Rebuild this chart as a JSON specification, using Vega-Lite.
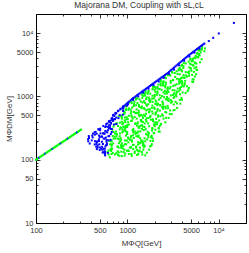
{
"$schema": "https://vega.github.io/schema/vega-lite/v6.json",
"width": 210, "height": 209,
"autosize": "none",
"padding": {"left": 36, "top": 14, "right": 3, "bottom": 30},
"title": {"text": "Majorana DM, Coupling with sL,cL", "fontSize": 8.5, "font": "Liberation Sans", "fontWeight": "normal", "color": "#333", "offset": 1, "dx": -2},
"config": {
  "view": {"stroke": "#000", "strokeWidth": 1},
  "axis": {"domain": false, "grid": false, "tickColor": "#000", "tickWidth": 0.8, "labelFont": "Liberation Sans", "labelFontSize": 7.5, "labelColor": "#333", "titleFont": "Liberation Sans", "titleFontSize": 8, "titleFontWeight": "normal", "titleColor": "#333", "labelOverlap": false, "labelFlush": false}
},
"data": {"values": [
{"mq":644,"mdm":109,"s":"g"},{"mq":672,"mdm":123,"s":"g"},{"mq":819,"mdm":115,"s":"g"},{"mq":871,"mdm":114,"s":"g"},{"mq":936,"mdm":116,"s":"g"},{"mq":1122,"mdm":115,"s":"g"},{"mq":1314,"mdm":121,"s":"g"},{"mq":1463,"mdm":121,"s":"g"},
{"mq":624,"mdm":121,"s":"g"},{"mq":761,"mdm":127,"s":"g"},{"mq":807,"mdm":130,"s":"g"},{"mq":860,"mdm":134,"s":"g"},{"mq":1040,"mdm":123,"s":"g"},{"mq":1208,"mdm":134,"s":"g"},{"mq":1318,"mdm":123,"s":"g"},{"mq":1373,"mdm":139,"s":"g"},{"mq":1638,"mdm":129,"s":"g"},
{"mq":624,"mdm":140,"s":"g"},{"mq":665,"mdm":137,"s":"g"},{"mq":806,"mdm":155,"s":"g"},{"mq":933,"mdm":144,"s":"g"},{"mq":1020,"mdm":140,"s":"g"},{"mq":1066,"mdm":155,"s":"g"},{"mq":1302,"mdm":139,"s":"g"},{"mq":1376,"mdm":155,"s":"g"},{"mq":1501,"mdm":144,"s":"g"},
{"mq":673,"mdm":152,"s":"g"},{"mq":779,"mdm":160,"s":"g"},{"mq":855,"mdm":164,"s":"g"},{"mq":888,"mdm":166,"s":"g"},{"mq":1092,"mdm":155,"s":"g"},{"mq":1158,"mdm":171,"s":"g"},{"mq":1245,"mdm":156,"s":"g"},{"mq":1510,"mdm":171,"s":"g"},{"mq":1781,"mdm":162,"s":"g"},
{"mq":649,"mdm":175,"s":"g"},{"mq":677,"mdm":174,"s":"g"},{"mq":830,"mdm":193,"s":"g"},{"mq":871,"mdm":182,"s":"g"},{"mq":941,"mdm":176,"s":"g"},{"mq":1127,"mdm":193,"s":"g"},{"mq":1314,"mdm":174,"s":"g"},{"mq":1432,"mdm":194,"s":"g"},{"mq":1498,"mdm":181,"s":"g"},{"mq":1859,"mdm":175,"s":"g"},
{"mq":663,"mdm":194,"s":"g"},{"mq":708,"mdm":215,"s":"g"},{"mq":857,"mdm":204,"s":"g"},{"mq":991,"mdm":201,"s":"g"},{"mq":1082,"mdm":207,"s":"g"},{"mq":1128,"mdm":201,"s":"g"},{"mq":1386,"mdm":218,"s":"g"},{"mq":1465,"mdm":199,"s":"g"},{"mq":1577,"mdm":196,"s":"g"},{"mq":1918,"mdm":197,"s":"g"},
{"mq":694,"mdm":236,"s":"g"},{"mq":757,"mdm":234,"s":"g"},{"mq":787,"mdm":216,"s":"g"},{"mq":966,"mdm":240,"s":"g"},{"mq":1020,"mdm":224,"s":"g"},{"mq":1102,"mdm":237,"s":"g"},{"mq":1326,"mdm":231,"s":"g"},{"mq":1548,"mdm":217,"s":"g"},{"mq":1700,"mdm":227,"s":"g"},{"mq":1843,"mdm":239,"s":"g"},
{"mq":735,"mdm":258,"s":"g"},{"mq":772,"mdm":250,"s":"g"},{"mq":831,"mdm":260,"s":"g"},{"mq":1000,"mdm":254,"s":"g"},{"mq":1166,"mdm":269,"s":"g"},{"mq":1272,"mdm":261,"s":"g"},{"mq":1330,"mdm":240,"s":"g"},{"mq":1633,"mdm":250,"s":"g"},{"mq":1728,"mdm":264,"s":"g"},{"mq":1948,"mdm":265,"s":"g"},
{"mq":709,"mdm":274,"s":"g"},{"mq":827,"mdm":301,"s":"g"},{"mq":901,"mdm":281,"s":"g"},{"mq":941,"mdm":305,"s":"g"},{"mq":1155,"mdm":284,"s":"g"},{"mq":1223,"mdm":278,"s":"g"},{"mq":1321,"mdm":279,"s":"g"},{"mq":1591,"mdm":303,"s":"g"},{"mq":1866,"mdm":289,"s":"g"},{"mq":2215,"mdm":277,"s":"g"},
{"mq":706,"mdm":332,"s":"g"},{"mq":861,"mdm":320,"s":"g"},{"mq":906,"mdm":335,"s":"g"},{"mq":969,"mdm":326,"s":"g"},{"mq":1168,"mdm":305,"s":"g"},{"mq":1357,"mdm":318,"s":"g"},{"mq":1478,"mdm":333,"s":"g"},{"mq":1546,"mdm":328,"s":"g"},{"mq":1890,"mdm":310,"s":"g"},{"mq":2000,"mdm":339,"s":"g"},{"mq":2214,"mdm":312,"s":"g"},
{"mq":765,"mdm":378,"s":"g"},{"mq":885,"mdm":366,"s":"g"},{"mq":963,"mdm":340,"s":"g"},{"mq":1003,"mdm":354,"s":"g"},{"mq":1229,"mdm":375,"s":"g"},{"mq":1297,"mdm":371,"s":"g"},{"mq":1397,"mdm":345,"s":"g"},{"mq":1683,"mdm":375,"s":"g"},{"mq":1961,"mdm":355,"s":"g"},{"mq":2142,"mdm":386,"s":"g"},{"mq":2323,"mdm":357,"s":"g"},
{"mq":830,"mdm":384,"s":"g"},{"mq":871,"mdm":398,"s":"g"},{"mq":936,"mdm":417,"s":"g"},{"mq":1122,"mdm":413,"s":"g"},{"mq":1304,"mdm":389,"s":"g"},{"mq":1421,"mdm":424,"s":"g"},{"mq":1483,"mdm":395,"s":"g"},{"mq":1817,"mdm":428,"s":"g"},{"mq":1921,"mdm":406,"s":"g"},{"mq":2071,"mdm":390,"s":"g"},{"mq":2611,"mdm":390,"s":"g"},
{"mq":869,"mdm":473,"s":"g"},{"mq":942,"mdm":465,"s":"g"},{"mq":979,"mdm":433,"s":"g"},{"mq":1202,"mdm":473,"s":"g"},{"mq":1267,"mdm":445,"s":"g"},{"mq":1363,"mdm":485,"s":"g"},{"mq":1637,"mdm":452,"s":"g"},{"mq":1908,"mdm":435,"s":"g"},{"mq":2075,"mdm":442,"s":"g"},{"mq":2170,"mdm":479,"s":"g"},{"mq":2835,"mdm":458,"s":"g"},
{"mq":861,"mdm":490,"s":"g"},{"mq":926,"mdm":531,"s":"g"},{"mq":1112,"mdm":497,"s":"g"},{"mq":1293,"mdm":541,"s":"g"},{"mq":1406,"mdm":511,"s":"g"},{"mq":1469,"mdm":492,"s":"g"},{"mq":1796,"mdm":493,"s":"g"},{"mq":1896,"mdm":535,"s":"g"},{"mq":2038,"mdm":517,"s":"g"},{"mq":2458,"mdm":496,"s":"g"},{"mq":3074,"mdm":524,"s":"g"},
{"mq":927,"mdm":561,"s":"g"},{"mq":965,"mdm":608,"s":"g"},{"mq":1181,"mdm":569,"s":"g"},{"mq":1247,"mdm":548,"s":"g"},{"mq":1340,"mdm":556,"s":"g"},{"mq":1612,"mdm":603,"s":"g"},{"mq":1876,"mdm":576,"s":"g"},{"mq":2045,"mdm":553,"s":"g"},{"mq":2136,"mdm":591,"s":"g"},{"mq":2615,"mdm":566,"s":"g"},{"mq":2950,"mdm":600,"s":"g"},
{"mq":907,"mdm":643,"s":"g"},{"mq":1091,"mdm":618,"s":"g"},{"mq":1267,"mdm":621,"s":"g"},{"mq":1380,"mdm":674,"s":"g"},{"mq":1440,"mdm":650,"s":"g"},{"mq":1764,"mdm":626,"s":"g"},{"mq":1861,"mdm":660,"s":"g"},{"mq":2000,"mdm":634,"s":"g"},{"mq":2407,"mdm":677,"s":"g"},{"mq":2798,"mdm":651,"s":"g"},{"mq":3296,"mdm":610,"s":"g"},
{"mq":970,"mdm":698,"s":"g"},{"mq":1187,"mdm":757,"s":"g"},{"mq":1252,"mdm":724,"s":"g"},{"mq":1344,"mdm":697,"s":"g"},{"mq":1617,"mdm":744,"s":"g"},{"mq":1882,"mdm":715,"s":"g"},{"mq":2050,"mdm":755,"s":"g"},{"mq":2136,"mdm":725,"s":"g"},{"mq":2620,"mdm":687,"s":"g"},{"mq":2772,"mdm":707,"s":"g"},{"mq":3230,"mdm":745,"s":"g"},
{"mq":1112,"mdm":818,"s":"g"},{"mq":1293,"mdm":785,"s":"g"},{"mq":1406,"mdm":830,"s":"g"},{"mq":1469,"mdm":800,"s":"g"},{"mq":1796,"mdm":853,"s":"g"},{"mq":1896,"mdm":820,"s":"g"},{"mq":2038,"mdm":768,"s":"g"},{"mq":2453,"mdm":791,"s":"g"},{"mq":2851,"mdm":843,"s":"g"},{"mq":3100,"mdm":827,"s":"g"},{"mq":3504,"mdm":773,"s":"g"},
{"mq":1292,"mdm":935,"s":"g"},{"mq":1361,"mdm":898,"s":"g"},{"mq":1463,"mdm":950,"s":"g"},{"mq":1754,"mdm":914,"s":"g"},{"mq":2041,"mdm":865,"s":"g"},{"mq":2225,"mdm":890,"s":"g"},{"mq":2318,"mdm":942,"s":"g"},{"mq":2840,"mdm":922,"s":"g"},{"mq":3000,"mdm":873,"s":"g"},{"mq":3230,"mdm":945,"s":"g"},{"mq":3978,"mdm":886,"s":"g"},
{"mq":1442,"mdm":1069,"s":"g"},{"mq":1566,"mdm":1028,"s":"g"},{"mq":1632,"mdm":964,"s":"g"},{"mq":1995,"mdm":995,"s":"g"},{"mq":2109,"mdm":1061,"s":"g"},{"mq":2266,"mdm":1040,"s":"g"},{"mq":2723,"mdm":976,"s":"g"},{"mq":3169,"mdm":1056,"s":"g"},{"mq":3451,"mdm":1001,"s":"g"},{"mq":3792,"mdm":1080,"s":"g"},
{"mq":1586,"mdm":1143,"s":"g"},{"mq":1673,"mdm":1095,"s":"g"},{"mq":1786,"mdm":1106,"s":"g"},{"mq":2152,"mdm":1197,"s":"g"},{"mq":2496,"mdm":1157,"s":"g"},{"mq":2714,"mdm":1110,"s":"g"},{"mq":2832,"mdm":1176,"s":"g"},{"mq":3465,"mdm":1127,"s":"g"},{"mq":3663,"mdm":1202,"s":"g"},{"mq":4038,"mdm":1154,"s":"g"},
{"mq":1714,"mdm":1218,"s":"g"},{"mq":1993,"mdm":1255,"s":"g"},{"mq":2168,"mdm":1330,"s":"g"},{"mq":2261,"mdm":1305,"s":"g"},{"mq":2772,"mdm":1235,"s":"g"},{"mq":2925,"mdm":1336,"s":"g"},{"mq":3145,"mdm":1255,"s":"g"},{"mq":3784,"mdm":1355,"s":"g"},{"mq":4664,"mdm":1285,"s":"g"},
{"mq":1926,"mdm":1366,"s":"g"},{"mq":2006,"mdm":1408,"s":"g"},{"mq":2457,"mdm":1491,"s":"g"},{"mq":2594,"mdm":1463,"s":"g"},{"mq":2784,"mdm":1384,"s":"g"},{"mq":3346,"mdm":1499,"s":"g"},{"mq":3901,"mdm":1408,"s":"g"},{"mq":4244,"mdm":1519,"s":"g"},{"mq":4512,"mdm":1440,"s":"g"},
{"mq":2195,"mdm":1534,"s":"g"},{"mq":2317,"mdm":1581,"s":"g"},{"mq":2489,"mdm":1674,"s":"g"},{"mq":2989,"mdm":1643,"s":"g"},{"mq":3477,"mdm":1555,"s":"g"},{"mq":3790,"mdm":1682,"s":"g"},{"mq":3955,"mdm":1580,"s":"g"},{"mq":5145,"mdm":1706,"s":"g"},
{"mq":2327,"mdm":1812,"s":"g"},{"mq":2499,"mdm":1737,"s":"g"},{"mq":2999,"mdm":1754,"s":"g"},{"mq":3498,"mdm":1898,"s":"g"},{"mq":3801,"mdm":1835,"s":"g"},{"mq":3965,"mdm":1757,"s":"g"},{"mq":5198,"mdm":1864,"s":"g"},
{"mq":2594,"mdm":1994,"s":"g"},{"mq":2784,"mdm":2155,"s":"g"},{"mq":3346,"mdm":2030,"s":"g"},{"mq":3901,"mdm":1946,"s":"g"},{"mq":4244,"mdm":1979,"s":"g"},{"mq":4416,"mdm":2137,"s":"g"},{"mq":5513,"mdm":2053,"s":"g"},
{"mq":2911,"mdm":2191,"s":"g"},{"mq":3126,"mdm":2369,"s":"g"},{"mq":3764,"mdm":2232,"s":"g"},{"mq":4378,"mdm":2411,"s":"g"},{"mq":4759,"mdm":2288,"s":"g"},{"mq":5136,"mdm":2187,"s":"g"},
{"mq":3465,"mdm":2483,"s":"g"},{"mq":3663,"mdm":2683,"s":"g"},{"mq":3943,"mdm":2581,"s":"g"},{"mq":4743,"mdm":2474,"s":"g"},{"mq":5724,"mdm":2643,"s":"g"},
{"mq":3760,"mdm":2815,"s":"g"},{"mq":3917,"mdm":3040,"s":"g"},{"mq":4778,"mdm":2868,"s":"g"},{"mq":5000,"mdm":2746,"s":"g"},{"mq":5463,"mdm":2794,"s":"g"},
{"mq":4162,"mdm":3354,"s":"g"},{"mq":4844,"mdm":3283,"s":"g"},{"mq":5253,"mdm":3091,"s":"g"},{"mq":5568,"mdm":3342,"s":"g"},
{"mq":4704,"mdm":3548,"s":"g"},{"mq":4901,"mdm":3827,"s":"g"},{"mq":5225,"mdm":3615,"s":"g"},{"mq":6273,"mdm":3458,"s":"g"},
{"mq":5247,"mdm":3938,"s":"g"},{"mq":5717,"mdm":4254,"s":"g"},{"mq":6000,"mdm":4096,"s":"g"},
{"mq":5618,"mdm":4378,"s":"g"},{"mq":5841,"mdm":4728,"s":"g"},{"mq":6175,"mdm":4459,"s":"g"},
{"mq":6018,"mdm":5366,"s":"g"},{"mq":6996,"mdm":5150,"s":"g"},
{"mq":6541,"mdm":5453,"s":"g"},{"mq":6576,"mdm":5597,"s":"g"},
{"mq":693,"mdm":128,"s":"g"},{"mq":733,"mdm":121,"s":"g"},{"mq":789,"mdm":119,"s":"g"},{"mq":949,"mdm":125,"s":"g"},{"mq":1108,"mdm":123,"s":"g"},{"mq":1205,"mdm":128,"s":"g"},{"mq":1277,"mdm":119,"s":"g"},{"mq":1575,"mdm":117,"s":"g"},
{"mq":609,"mdm":132,"s":"g"},{"mq":656,"mdm":145,"s":"g"},{"mq":785,"mdm":136,"s":"g"},{"mq":912,"mdm":132,"s":"g"},{"mq":994,"mdm":138,"s":"g"},{"mq":1037,"mdm":137,"s":"g"},{"mq":1271,"mdm":144,"s":"g"},{"mq":1346,"mdm":135,"s":"g"},{"mq":1444,"mdm":132,"s":"g"},
{"mq":678,"mdm":147,"s":"g"},{"mq":790,"mdm":161,"s":"g"},{"mq":860,"mdm":153,"s":"g"},{"mq":898,"mdm":150,"s":"g"},{"mq":1103,"mdm":158,"s":"g"},{"mq":1163,"mdm":147,"s":"g"},{"mq":1254,"mdm":162,"s":"g"},{"mq":1520,"mdm":157,"s":"g"},{"mq":1740,"mdm":144,"s":"g"},
{"mq":675,"mdm":166,"s":"g"},{"mq":701,"mdm":181,"s":"g"},{"mq":861,"mdm":171,"s":"g"},{"mq":906,"mdm":166,"s":"g"},{"mq":974,"mdm":175,"s":"g"},{"mq":1173,"mdm":172,"s":"g"},{"mq":1367,"mdm":181,"s":"g"},{"mq":1483,"mdm":168,"s":"g"},{"mq":1555,"mdm":165,"s":"g"},{"mq":1830,"mdm":166,"s":"g"},
{"mq":634,"mdm":199,"s":"g"},{"mq":675,"mdm":198,"s":"g"},{"mq":811,"mdm":182,"s":"g"},{"mq":943,"mdm":201,"s":"g"},{"mq":1030,"mdm":188,"s":"g"},{"mq":1075,"mdm":207,"s":"g"},{"mq":1318,"mdm":189,"s":"g"},{"mq":1391,"mdm":184,"s":"g"},{"mq":1492,"mdm":187,"s":"g"},{"mq":1795,"mdm":198,"s":"g"},
{"mq":742,"mdm":216,"s":"g"},{"mq":809,"mdm":210,"s":"g"},{"mq":845,"mdm":219,"s":"g"},{"mq":1034,"mdm":214,"s":"g"},{"mq":1094,"mdm":226,"s":"g"},{"mq":1178,"mdm":220,"s":"g"},{"mq":1418,"mdm":201,"s":"g"},{"mq":1654,"mdm":210,"s":"g"},{"mq":1813,"mdm":225,"s":"g"},{"mq":1901,"mdm":216,"s":"g"},
{"mq":725,"mdm":231,"s":"g"},{"mq":767,"mdm":253,"s":"g"},{"mq":827,"mdm":235,"s":"g"},{"mq":995,"mdm":257,"s":"g"},{"mq":1155,"mdm":242,"s":"g"},{"mq":1257,"mdm":235,"s":"g"},{"mq":1315,"mdm":232,"s":"g"},{"mq":1607,"mdm":254,"s":"g"},{"mq":1703,"mdm":245,"s":"g"},{"mq":1853,"mdm":231,"s":"g"},
{"mq":755,"mdm":278,"s":"g"},{"mq":880,"mdm":270,"s":"g"},{"mq":958,"mdm":281,"s":"g"},{"mq":998,"mdm":274,"s":"g"},{"mq":1223,"mdm":257,"s":"g"},{"mq":1292,"mdm":268,"s":"g"},{"mq":1392,"mdm":280,"s":"g"},{"mq":1673,"mdm":276,"s":"g"},{"mq":1972,"mdm":261,"s":"g"},{"mq":2266,"mdm":278,"s":"g"},
{"mq":686,"mdm":297,"s":"g"},{"mq":840,"mdm":323,"s":"g"},{"mq":886,"mdm":301,"s":"g"},{"mq":950,"mdm":292,"s":"g"},{"mq":1142,"mdm":295,"s":"g"},{"mq":1330,"mdm":321,"s":"g"},{"mq":1452,"mdm":305,"s":"g"},{"mq":1517,"mdm":294,"s":"g"},{"mq":1880,"mdm":314,"s":"g"},{"mq":2030,"mdm":297,"s":"g"},{"mq":2204,"mdm":315,"s":"g"},
{"mq":791,"mdm":341,"s":"g"},{"mq":917,"mdm":329,"s":"g"},{"mq":999,"mdm":329,"s":"g"},{"mq":1042,"mdm":359,"s":"g"},{"mq":1276,"mdm":345,"s":"g"},{"mq":1346,"mdm":333,"s":"g"},{"mq":1449,"mdm":350,"s":"g"},{"mq":1739,"mdm":337,"s":"g"},{"mq":2025,"mdm":360,"s":"g"},{"mq":2266,"mdm":341,"s":"g"},
{"mq":739,"mdm":363,"s":"g"},{"mq":903,"mdm":376,"s":"g"},{"mq":950,"mdm":395,"s":"g"},{"mq":1021,"mdm":391,"s":"g"},{"mq":1224,"mdm":368,"s":"g"},{"mq":1426,"mdm":401,"s":"g"},{"mq":1550,"mdm":373,"s":"g"},{"mq":1622,"mdm":405,"s":"g"},{"mq":1990,"mdm":384,"s":"g"},{"mq":2119,"mdm":363,"s":"g"},{"mq":2347,"mdm":368,"s":"g"},
{"mq":872,"mdm":445,"s":"g"},{"mq":1012,"mdm":438,"s":"g"},{"mq":1102,"mdm":409,"s":"g"},{"mq":1147,"mdm":446,"s":"g"},{"mq":1407,"mdm":420,"s":"g"},{"mq":1485,"mdm":457,"s":"g"},{"mq":1596,"mdm":427,"s":"g"},{"mq":1918,"mdm":410,"s":"g"},{"mq":2237,"mdm":417,"s":"g"},{"mq":2493,"mdm":445,"s":"g"},
{"mq":806,"mdm":486,"s":"g"},{"mq":987,"mdm":468,"s":"g"},{"mq":1040,"mdm":493,"s":"g"},{"mq":1121,"mdm":476,"s":"g"},{"mq":1346,"mdm":506,"s":"g"},{"mq":1569,"mdm":489,"s":"g"},{"mq":1705,"mdm":456,"s":"g"},{"mq":1781,"mdm":470,"s":"g"},{"mq":2184,"mdm":502,"s":"g"},{"mq":2307,"mdm":486,"s":"g"},{"mq":2660,"mdm":459,"s":"g"},
{"mq":938,"mdm":556,"s":"g"},{"mq":1092,"mdm":536,"s":"g"},{"mq":1190,"mdm":565,"s":"g"},{"mq":1238,"mdm":545,"s":"g"},{"mq":1517,"mdm":514,"s":"g"},{"mq":1604,"mdm":532,"s":"g"},{"mq":1724,"mdm":561,"s":"g"},{"mq":2071,"mdm":549,"s":"g"},{"mq":2412,"mdm":520,"s":"g"},{"mq":2678,"mdm":556,"s":"g"},{"mq":2928,"mdm":526,"s":"g"},
{"mq":977,"mdm":636,"s":"g"},{"mq":1030,"mdm":614,"s":"g"},{"mq":1107,"mdm":574,"s":"g"},{"mq":1331,"mdm":594,"s":"g"},{"mq":1548,"mdm":631,"s":"g"},{"mq":1684,"mdm":621,"s":"g"},{"mq":1757,"mdm":581,"s":"g"},{"mq":2153,"mdm":629,"s":"g"},{"mq":2277,"mdm":596,"s":"g"},{"mq":2470,"mdm":636,"s":"g"},{"mq":3213,"mdm":603,"s":"g"},
{"mq":1044,"mdm":646,"s":"g"},{"mq":1133,"mdm":667,"s":"g"},{"mq":1181,"mdm":705,"s":"g"},{"mq":1449,"mdm":693,"s":"g"},{"mq":1530,"mdm":654,"s":"g"},{"mq":1644,"mdm":710,"s":"g"},{"mq":1974,"mdm":665,"s":"g"},{"mq":2300,"mdm":719,"s":"g"},{"mq":2503,"mdm":682,"s":"g"},{"mq":2640,"mdm":646,"s":"g"},{"mq":3518,"mdm":657,"s":"g"},
{"mq":1040,"mdm":794,"s":"g"},{"mq":1116,"mdm":780,"s":"g"},{"mq":1341,"mdm":730,"s":"g"},{"mq":1564,"mdm":793,"s":"g"},{"mq":1700,"mdm":750,"s":"g"},{"mq":1776,"mdm":812,"s":"g"},{"mq":2174,"mdm":762,"s":"g"},{"mq":2297,"mdm":731,"s":"g"},{"mq":2470,"mdm":743,"s":"g"},{"mq":3009,"mdm":794,"s":"g"},{"mq":3816,"mdm":767,"s":"g"},
{"mq":1195,"mdm":823,"s":"g"},{"mq":1248,"mdm":892,"s":"g"},{"mq":1528,"mdm":837,"s":"g"},{"mq":1614,"mdm":907,"s":"g"},{"mq":1734,"mdm":859,"s":"g"},{"mq":2086,"mdm":824,"s":"g"},{"mq":2427,"mdm":829,"s":"g"},{"mq":2642,"mdm":898,"s":"g"},{"mq":2755,"mdm":869,"s":"g"},{"mq":3381,"mdm":823,"s":"g"},{"mq":3762,"mdm":879,"s":"g"},
{"mq":1235,"mdm":942,"s":"g"},{"mq":1484,"mdm":1020,"s":"g"},{"mq":1723,"mdm":958,"s":"g"},{"mq":1875,"mdm":921,"s":"g"},{"mq":1958,"mdm":934,"s":"g"},{"mq":2399,"mdm":1011,"s":"g"},{"mq":2534,"mdm":970,"s":"g"},{"mq":2722,"mdm":929,"s":"g"},{"mq":3274,"mdm":993,"s":"g"},{"mq":3922,"mdm":942,"s":"g"},
{"mq":1483,"mdm":1132,"s":"g"},{"mq":1546,"mdm":1090,"s":"g"},{"mq":1890,"mdm":1021,"s":"g"},{"mq":1995,"mdm":1055,"s":"g"},{"mq":2142,"mdm":1124,"s":"g"},{"mq":2576,"mdm":1103,"s":"g"},{"mq":3000,"mdm":1034,"s":"g"},{"mq":3265,"mdm":1119,"s":"g"},{"mq":3408,"mdm":1061,"s":"g"},{"mq":4358,"mdm":1133,"s":"g"},
{"mq":1584,"mdm":1210,"s":"g"},{"mq":1696,"mdm":1162,"s":"g"},{"mq":2040,"mdm":1170,"s":"g"},{"mq":2374,"mdm":1269,"s":"g"},{"mq":2580,"mdm":1225,"s":"g"},{"mq":2693,"mdm":1176,"s":"g"},{"mq":3297,"mdm":1244,"s":"g"},{"mq":3485,"mdm":1194,"s":"g"},{"mq":3800,"mdm":1275,"s":"g"},{"mq":4590,"mdm":1210,"s":"g"},
{"mq":1887,"mdm":1289,"s":"g"},{"mq":2050,"mdm":1330,"s":"g"},{"mq":2136,"mdm":1407,"s":"g"},{"mq":2620,"mdm":1382,"s":"g"},{"mq":2767,"mdm":1306,"s":"g"},{"mq":2974,"mdm":1414,"s":"g"},{"mq":3570,"mdm":1328,"s":"g"},{"mq":4155,"mdm":1434,"s":"g"},{"mq":4738,"mdm":1362,"s":"g"},
{"mq":1910,"mdm":1447,"s":"g"},{"mq":2336,"mdm":1493,"s":"g"},{"mq":2465,"mdm":1580,"s":"g"},{"mq":2646,"mdm":1551,"s":"g"},{"mq":3182,"mdm":1467,"s":"g"},{"mq":3699,"mdm":1588,"s":"g"},{"mq":4027,"mdm":1491,"s":"g"},{"mq":4272,"mdm":1611,"s":"g"},
{"mq":2331,"mdm":1709,"s":"g"},{"mq":2460,"mdm":1640,"s":"g"},{"mq":2641,"mdm":1654,"s":"g"},{"mq":3177,"mdm":1792,"s":"g"},{"mq":3694,"mdm":1731,"s":"g"},{"mq":4017,"mdm":1659,"s":"g"},{"mq":4320,"mdm":1758,"s":"g"},{"mq":5250,"mdm":1686,"s":"g"},
{"mq":2465,"mdm":2014,"s":"g"},{"mq":2651,"mdm":1937,"s":"g"},{"mq":3182,"mdm":1817,"s":"g"},{"mq":3699,"mdm":1876,"s":"g"},{"mq":4027,"mdm":2001,"s":"g"},{"mq":4205,"mdm":1959,"s":"g"},{"mq":5355,"mdm":1839,"s":"g"},
{"mq":2762,"mdm":2217,"s":"g"},{"mq":2964,"mdm":2130,"s":"g"},{"mq":3560,"mdm":2255,"s":"g"},{"mq":4145,"mdm":2170,"s":"g"},{"mq":4501,"mdm":2051,"s":"g"},{"mq":4752,"mdm":2111,"s":"g"},{"mq":5680,"mdm":2236,"s":"g"},
{"mq":3089,"mdm":2439,"s":"g"},{"mq":3316,"mdm":2340,"s":"g"},{"mq":3978,"mdm":2482,"s":"g"},{"mq":4632,"mdm":2386,"s":"g"},{"mq":5037,"mdm":2544,"s":"g"},{"mq":5376,"mdm":2440,"s":"g"},
{"mq":3654,"mdm":2573,"s":"g"},{"mq":3841,"mdm":2653,"s":"g"},{"mq":4114,"mdm":2811,"s":"g"},{"mq":4937,"mdm":2758,"s":"g"},{"mq":5830,"mdm":2609,"s":"g"},
{"mq":3986,"mdm":3131,"s":"g"},{"mq":4128,"mdm":3007,"s":"g"},{"mq":5040,"mdm":3187,"s":"g"},{"mq":5326,"mdm":3065,"s":"g"},{"mq":5700,"mdm":2898,"s":"g"},
{"mq":4366,"mdm":3308,"s":"g"},{"mq":5067,"mdm":3580,"s":"g"},{"mq":5480,"mdm":3439,"s":"g"},{"mq":5712,"mdm":3300,"s":"g"},
{"mq":4935,"mdm":3943,"s":"g"},{"mq":5178,"mdm":3785,"s":"g"},{"mq":5558,"mdm":4013,"s":"g"},{"mq":6528,"mdm":3858,"s":"g"},
{"mq":5459,"mdm":4080,"s":"g"},{"mq":5923,"mdm":4200,"s":"g"},{"mq":6144,"mdm":4462,"s":"g"},
{"mq":5880,"mdm":4868,"s":"g"},{"mq":6138,"mdm":4666,"s":"g"},{"mq":6365,"mdm":4959,"s":"g"},
{"mq":6222,"mdm":5302,"s":"g"},{"mq":7102,"mdm":5723,"s":"g"},{"mq":6600,"mdm":6050,"s":"g"},
{"mq":100,"mdm":100,"s":"g"},{"mq":102.6,"mdm":102.5,"s":"g"},{"mq":105.3,"mdm":105.1,"s":"g"},{"mq":108.1,"mdm":107.8,"s":"b"},{"mq":110.9,"mdm":110.5,"s":"g"},{"mq":113.8,"mdm":113.2,"s":"g"},{"mq":116.8,"mdm":116.1,"s":"g"},{"mq":119.8,"mdm":119.0,"s":"g"},{"mq":122.9,"mdm":122.0,"s":"g"},{"mq":126.2,"mdm":125.1,"s":"b"},{"mq":129.5,"mdm":128.2,"s":"g"},{"mq":132.9,"mdm":131.5,"s":"g"},{"mq":136.4,"mdm":134.8,"s":"g"},{"mq":140.0,"mdm":138.2,"s":"g"},{"mq":143.6,"mdm":141.7,"s":"g"},{"mq":147.4,"mdm":145.3,"s":"g"},{"mq":151.2,"mdm":148.9,"s":"b"},{"mq":155.2,"mdm":152.6,"s":"g"},{"mq":159.3,"mdm":156.5,"s":"g"},{"mq":163.5,"mdm":160.4,"s":"g"},{"mq":167.7,"mdm":164.5,"s":"g"},{"mq":172.2,"mdm":168.6,"s":"g"},{"mq":176.7,"mdm":172.9,"s":"g"},{"mq":181.3,"mdm":177.3,"s":"g"},{"mq":186.1,"mdm":181.7,"s":"b"},{"mq":190.9,"mdm":186.3,"s":"g"},{"mq":195.9,"mdm":191.0,"s":"g"},{"mq":201.1,"mdm":195.8,"s":"g"},{"mq":206.3,"mdm":200.7,"s":"g"},{"mq":211.7,"mdm":205.7,"s":"g"},{"mq":217.3,"mdm":211.0,"s":"g"},{"mq":223.0,"mdm":216.3,"s":"b"},{"mq":228.8,"mdm":221.7,"s":"g"},{"mq":234.9,"mdm":227.3,"s":"g"},{"mq":241.0,"mdm":233.0,"s":"g"},{"mq":247.3,"mdm":238.9,"s":"g"},{"mq":253.8,"mdm":244.9,"s":"g"},{"mq":260.4,"mdm":251.1,"s":"g"},{"mq":267.3,"mdm":257.4,"s":"g"},{"mq":274.2,"mdm":263.9,"s":"g"},{"mq":281.4,"mdm":270.5,"s":"b"},{"mq":288.8,"mdm":277.3,"s":"g"},{"mq":296.4,"mdm":284.4,"s":"g"},{"mq":304.1,"mdm":291.5,"s":"g"},{"mq":312.0,"mdm":298.8,"s":"g"},
{"mq":572,"mdm":117,"s":"b"},{"mq":566,"mdm":129,"s":"b"},{"mq":546,"mdm":131,"s":"b"},{"mq":569,"mdm":123,"s":"b"},{"mq":537,"mdm":130,"s":"b"},{"mq":612,"mdm":128,"s":"b"},
{"mq":535,"mdm":144,"s":"b"},{"mq":567,"mdm":136,"s":"b"},{"mq":571,"mdm":131,"s":"b"},{"mq":499,"mdm":142,"s":"b"},{"mq":520,"mdm":149,"s":"b"},{"mq":551,"mdm":149,"s":"b"},
{"mq":464,"mdm":147,"s":"b"},{"mq":530,"mdm":160,"s":"b"},{"mq":567,"mdm":149,"s":"b"},{"mq":576,"mdm":162,"s":"b"},{"mq":457,"mdm":160,"s":"b"},{"mq":475,"mdm":156,"s":"b"},
{"mq":504,"mdm":156,"s":"b"},{"mq":597,"mdm":172,"s":"b"},{"mq":440,"mdm":174,"s":"b"},{"mq":474,"mdm":167,"s":"b"},{"mq":494,"mdm":175,"s":"b"},{"mq":588,"mdm":170,"s":"b"},
{"mq":599,"mdm":180,"s":"b"},{"mq":388,"mdm":180,"s":"b"},{"mq":459,"mdm":176,"s":"b"},{"mq":541,"mdm":177,"s":"b"},{"mq":592,"mdm":193,"s":"b"},{"mq":374,"mdm":195,"s":"b"},
{"mq":462,"mdm":187,"s":"b"},{"mq":490,"mdm":197,"s":"b"},{"mq":527,"mdm":192,"s":"b"},{"mq":622,"mdm":202,"s":"b"},{"mq":408,"mdm":202,"s":"b"},{"mq":443,"mdm":196,"s":"b"},
{"mq":466,"mdm":194,"s":"b"},{"mq":567,"mdm":216,"s":"b"},{"mq":594,"mdm":205,"s":"b"},{"mq":372,"mdm":210,"s":"b"},{"mq":418,"mdm":225,"s":"b"},{"mq":488,"mdm":210,"s":"b"},
{"mq":530,"mdm":230,"s":"b"},{"mq":552,"mdm":215,"s":"b"},{"mq":656,"mdm":206,"s":"b"},{"mq":381,"mdm":220,"s":"b"},{"mq":413,"mdm":240,"s":"b"},{"mq":500,"mdm":227,"s":"b"},
{"mq":583,"mdm":224,"s":"b"},{"mq":633,"mdm":236,"s":"b"},{"mq":379,"mdm":236,"s":"b"},{"mq":462,"mdm":257,"s":"b"},{"mq":490,"mdm":240,"s":"b"},{"mq":523,"mdm":234,"s":"b"},
{"mq":622,"mdm":235,"s":"b"},{"mq":660,"mdm":254,"s":"b"},{"mq":422,"mdm":258,"s":"b"},{"mq":442,"mdm":249,"s":"b"},{"mq":541,"mdm":261,"s":"b"},{"mq":564,"mdm":256,"s":"b"},
{"mq":603,"mdm":270,"s":"b"},{"mq":439,"mdm":270,"s":"b"},{"mq":509,"mdm":260,"s":"b"},{"mq":556,"mdm":260,"s":"b"},{"mq":576,"mdm":284,"s":"b"},{"mq":675,"mdm":274,"s":"b"},
{"mq":450,"mdm":275,"s":"b"},{"mq":485,"mdm":300,"s":"b"},{"mq":581,"mdm":278,"s":"b"},{"mq":678,"mdm":305,"s":"b"},{"mq":484,"mdm":303,"s":"b"},{"mq":504,"mdm":292,"s":"b"},
{"mq":614,"mdm":292,"s":"b"},{"mq":644,"mdm":318,"s":"b"},{"mq":656,"mdm":307,"s":"b"},{"mq":505,"mdm":309,"s":"b"},{"mq":583,"mdm":337,"s":"b"},{"mq":628,"mdm":314,"s":"b"},
{"mq":648,"mdm":342,"s":"b"},{"mq":546,"mdm":341,"s":"b"},{"mq":574,"mdm":328,"s":"b"},{"mq":613,"mdm":330,"s":"b"},{"mq":714,"mdm":358,"s":"b"},{"mq":588,"mdm":365,"s":"b"},
{"mq":633,"mdm":351,"s":"b"},{"mq":662,"mdm":370,"s":"b"},{"mq":604,"mdm":374,"s":"b"},{"mq":629,"mdm":406,"s":"b"},{"mq":665,"mdm":381,"s":"b"},{"mq":760,"mdm":366,"s":"b"},
{"mq":636,"mdm":392,"s":"b"},{"mq":680,"mdm":426,"s":"b"},{"mq":696,"mdm":410,"s":"b"},{"mq":651,"mdm":412,"s":"b"},{"mq":673,"mdm":446,"s":"b"},{"mq":703,"mdm":419,"s":"b"},
{"mq":801,"mdm":453,"s":"b"},{"mq":684,"mdm":455,"s":"b"},{"mq":721,"mdm":437,"s":"b"},{"mq":734,"mdm":438,"s":"b"},{"mq":698,"mdm":499,"s":"b"},{"mq":723,"mdm":491,"s":"b"},
{"mq":760,"mdm":463,"s":"b"},{"mq":704,"mdm":510,"s":"b"},{"mq":827,"mdm":506,"s":"b"},{"mq":742,"mdm":548,"s":"b"},{"mq":758,"mdm":545,"s":"b"},{"mq":893,"mdm":513,"s":"b"},
{"mq":743,"mdm":529,"s":"b"},{"mq":789,"mdm":585,"s":"b"},{"mq":801,"mdm":596,"s":"b"},{"mq":901,"mdm":588,"s":"b"},{"mq":839,"mdm":623,"s":"b"},{"mq":845,"mdm":637,"s":"b"},
{"mq":903,"mdm":693,"s":"b"},{"mq":911,"mdm":684,"s":"b"},{"mq":884,"mdm":665,"s":"b"},{"mq":995,"mdm":713,"s":"b"},
{"mq":900,"mdm":685,"s":"b"},{"mq":900,"mdm":640,"s":"b"},{"mq":960,"mdm":742,"s":"b"},{"mq":1020,"mdm":800,"s":"b"},{"mq":1020,"mdm":750,"s":"b"},{"mq":1090,"mdm":868,"s":"b"},{"mq":1160,"mdm":940,"s":"b"},{"mq":1160,"mdm":880,"s":"b"},{"mq":1240,"mdm":1005,"s":"b"},{"mq":1320,"mdm":1075,"s":"b"},{"mq":1320,"mdm":1000,"s":"b"},{"mq":1410,"mdm":1150,"s":"b"},{"mq":1500,"mdm":1230,"s":"b"},{"mq":1500,"mdm":1150,"s":"b"},{"mq":1600,"mdm":1315,"s":"b"},{"mq":1710,"mdm":1410,"s":"b"},{"mq":1710,"mdm":1320,"s":"b"},{"mq":1820,"mdm":1505,"s":"b"},{"mq":1940,"mdm":1610,"s":"b"},{"mq":1940,"mdm":1500,"s":"b"},{"mq":2070,"mdm":1720,"s":"b"},{"mq":2210,"mdm":1845,"s":"b"},{"mq":2210,"mdm":1720,"s":"b"},{"mq":2360,"mdm":1975,"s":"b"},{"mq":2510,"mdm":2105,"s":"b"},{"mq":2510,"mdm":1960,"s":"b"},{"mq":2680,"mdm":2255,"s":"b"},{"mq":2860,"mdm":2430,"s":"b"},{"mq":2860,"mdm":2270,"s":"b"},{"mq":3050,"mdm":2630,"s":"b"},{"mq":3250,"mdm":2840,"s":"b"},{"mq":3250,"mdm":2650,"s":"b"},{"mq":3470,"mdm":3080,"s":"b"},{"mq":3700,"mdm":3330,"s":"b"},{"mq":3700,"mdm":3100,"s":"b"},{"mq":3950,"mdm":3600,"s":"b"},{"mq":4210,"mdm":3900,"s":"b"},{"mq":4210,"mdm":3650,"s":"b"},{"mq":4490,"mdm":4210,"s":"b"},{"mq":4790,"mdm":4530,"s":"b"},{"mq":4790,"mdm":4250,"s":"b"},{"mq":5110,"mdm":4860,"s":"b"},{"mq":5450,"mdm":5220,"s":"b"},{"mq":5450,"mdm":4900,"s":"b"},{"mq":5810,"mdm":5600,"s":"b"},{"mq":6200,"mdm":6020,"s":"b"},{"mq":6200,"mdm":5650,"s":"b"},{"mq":6600,"mdm":6420,"s":"b"},{"mq":7000,"mdm":6830,"s":"b"},
{"mq":930,"mdm":712,"s":"b"},{"mq":990,"mdm":772,"s":"b"},{"mq":1055,"mdm":830,"s":"b"},{"mq":1125,"mdm":905,"s":"b"},{"mq":1200,"mdm":965,"s":"b"},{"mq":1280,"mdm":1040,"s":"b"},{"mq":1365,"mdm":1110,"s":"b"},{"mq":1455,"mdm":1190,"s":"b"},{"mq":1550,"mdm":1270,"s":"b"},{"mq":1655,"mdm":1360,"s":"b"},{"mq":1765,"mdm":1455,"s":"b"},{"mq":1880,"mdm":1555,"s":"b"},{"mq":2005,"mdm":1665,"s":"b"},{"mq":2140,"mdm":1780,"s":"b"},{"mq":2285,"mdm":1905,"s":"b"},{"mq":2435,"mdm":2035,"s":"b"},{"mq":2595,"mdm":2180,"s":"b"},{"mq":2770,"mdm":2330,"s":"b"},{"mq":2955,"mdm":2540,"s":"b"},{"mq":3150,"mdm":2740,"s":"b"},{"mq":3360,"mdm":2960,"s":"b"},{"mq":3585,"mdm":3210,"s":"b"},{"mq":3825,"mdm":3460,"s":"b"},{"mq":4080,"mdm":3760,"s":"b"},{"mq":4350,"mdm":4060,"s":"b"},{"mq":4640,"mdm":4390,"s":"b"},{"mq":4950,"mdm":4700,"s":"b"},{"mq":5280,"mdm":5050,"s":"b"},{"mq":5630,"mdm":5420,"s":"b"},{"mq":6000,"mdm":5800,"s":"b"},{"mq":6400,"mdm":6230,"s":"b"},{"mq":6800,"mdm":6620,"s":"b"},
{"mq":7820,"mdm":7470,"s":"b"},{"mq":8740,"mdm":8410,"s":"b"},{"mq":10070,"mdm":9860,"s":"b"},{"mq":14730,"mdm":14460,"s":"b"}
]},
"layer": [
  {
    "mark": {"type": "square", "size": 4, "opacity": 1},
    "encoding": {
      "x": {"field": "mq", "type": "quantitative", "scale": {"type": "log", "domain": [100, 20000], "nice": false},
        "axis": {"orient": "bottom", "title": "MΦQ[GeV]", "titlePadding": 4,
          "values": [100,200,300,400,500,600,700,800,900,1000,2000,3000,4000,5000,6000,7000,8000,9000,10000,20000],
          "labelExpr": "datum.value == 10000 ? '10⁴' : (indexof([100,500,1000,5000], datum.value) >= 0 ? format(datum.value, 'd') : '')",
          "tickSize": {"condition": {"test": "indexof([100,500,1000,5000,10000], datum.value) >= 0", "value": -4}, "value": -2},
          "labelPadding": 7}},
      "y": {"field": "mdm", "type": "quantitative", "scale": {"type": "log", "domain": [10, 20000], "nice": false},
        "axis": {"orient": "left", "title": "MΦDM[GeV]", "titlePadding": 3,
          "values": [10,20,30,40,50,60,70,80,90,100,200,300,400,500,600,700,800,900,1000,2000,3000,4000,5000,6000,7000,8000,9000,10000,20000],
          "labelExpr": "datum.value == 10000 ? '10⁴' : (indexof([10,50,100,500,1000,5000], datum.value) >= 0 ? format(datum.value, 'd') : '')",
          "tickSize": {"condition": {"test": "indexof([10,50,100,500,1000,5000,10000], datum.value) >= 0", "value": -4}, "value": -2},
          "labelPadding": 7}},
      "color": {"field": "s", "type": "nominal", "scale": {"domain": ["g", "b"], "range": ["#00ff00", "#0000ff"]}, "legend": null}
    }
  },
  {
    "transform": [{"filter": "datum.mq > 14000"}],
    "mark": {"type": "square", "size": 4, "opacity": 0},
    "encoding": {
      "x": {"field": "mq", "type": "quantitative", "scale": {"type": "log", "domain": [100, 20000], "nice": false},
        "axis": {"orient": "top", "title": null, "labels": false,
          "values": [100,200,300,400,500,600,700,800,900,1000,2000,3000,4000,5000,6000,7000,8000,9000,10000,20000],
          "tickSize": {"condition": {"test": "indexof([100,500,1000,5000,10000], datum.value) >= 0", "value": -4}, "value": -2}}},
      "y": {"field": "mdm", "type": "quantitative", "scale": {"type": "log", "domain": [10, 20000], "nice": false},
        "axis": {"orient": "right", "title": null, "labels": false,
          "values": [10,20,30,40,50,60,70,80,90,100,200,300,400,500,600,700,800,900,1000,2000,3000,4000,5000,6000,7000,8000,9000,10000,20000],
          "tickSize": {"condition": {"test": "indexof([10,50,100,500,1000,5000,10000], datum.value) >= 0", "value": -4}, "value": -2}}}
    }
  }
],
"resolve": {"axis": {"x": "independent", "y": "independent"}}
}
